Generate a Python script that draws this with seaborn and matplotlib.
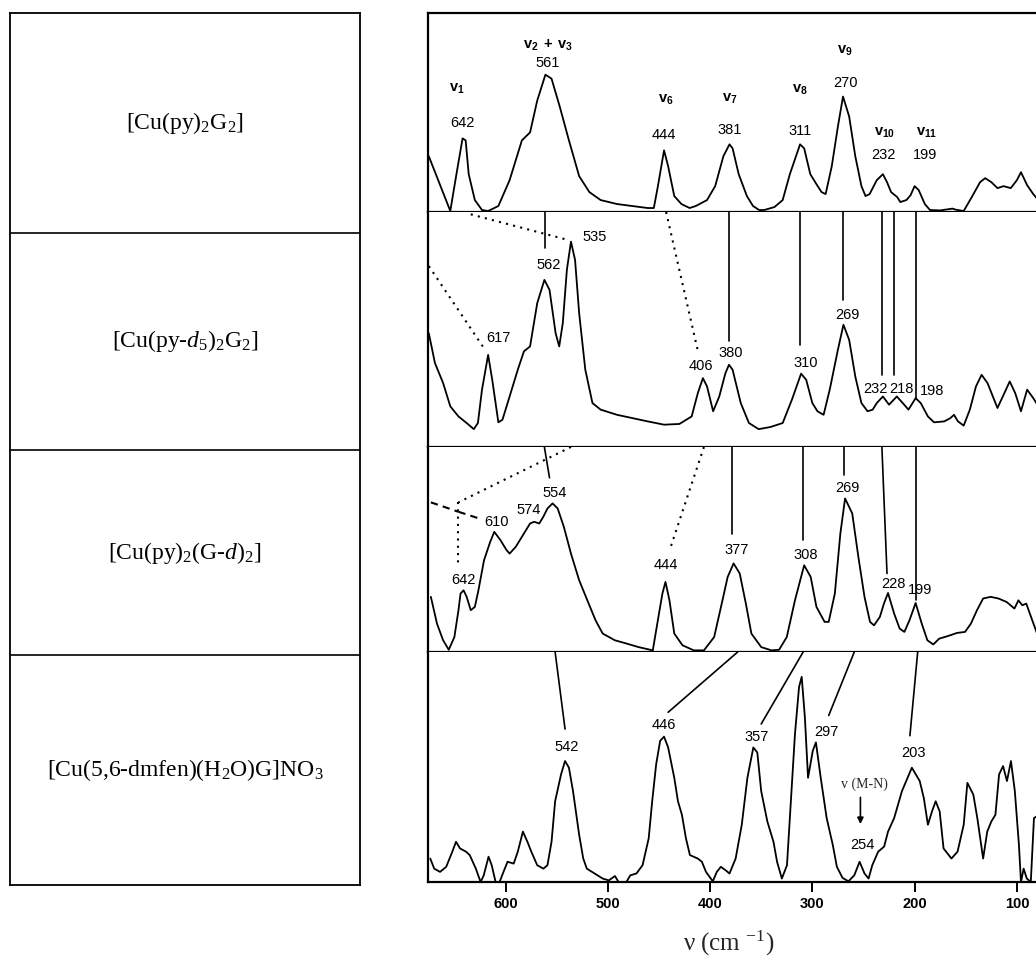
import matplotlib
matplotlib.use("Agg")
import matplotlib.pyplot as plt
import seaborn as sns
import pandas as pd

# ---------------- data ----------------
compounds = [r"[Cu(py)$_2$G$_2$]",
             r"[Cu(py-$d_5$)$_2$G$_2$]",
             r"[Cu(py)$_2$(G-$d$)$_2$]",
             r"[Cu(5,6-dmfen)(H$_2$O)G]NO$_3$"]

x_ticks = [600, 500, 400, 300, 200, 100]

# spectrum 1 : [Cu(py)2G2]
s1_wn = [675, 654, 648, 642, 639, 636, 630, 623, 617, 607, 596, 584, 576, 569, 561, 555, 547, 538,
         528, 518, 507, 491, 476, 461, 455, 451, 445, 441, 435, 428, 420, 414, 403, 395, 387, 381,
         378, 372, 364, 358, 352, 347, 337, 329, 322, 312, 308, 302, 296, 291, 287, 281, 275, 270,
         264, 258, 252, 248, 244, 237, 231, 227, 223, 217, 214, 208, 204, 200, 196, 190, 185, 175,
         163, 160, 152, 144, 136, 131, 125, 119, 113, 106, 100, 96, 90, 84, 79]
s1_int = [28, 0.5, 19, 37, 36, 19, 6, 1, 0.5, 3, 16, 36, 40, 56, 69, 67, 53, 36,
          18, 10, 6, 4, 3, 2, 2, 13, 31, 23, 8, 4, 2, 3, 6, 13, 28, 34,
          32, 19, 8, 3, 1, 1, 2.5, 6, 19, 34, 32, 19, 14, 10, 9, 23, 43, 58,
          48, 28, 13, 8, 9, 16, 19, 15, 10, 7.5, 5, 6, 8.4, 13, 11, 4, 1, 0.8,
          1.7, 1.2, 0.5, 7.6, 15, 17, 15, 12, 13, 12, 16, 20, 13.5, 9, 6]

# spectrum 2 : [Cu(py-d5)2G2]
s2_wn = [675, 669, 661, 654, 646, 638, 631, 627, 623, 617, 613, 607, 603, 596, 588, 582, 576, 569,
         562, 557, 551, 547.5, 544, 540, 536, 532, 528, 522, 515, 507, 491, 476, 461, 445, 430, 418,
         412, 407, 403, 397, 391, 385, 381.5, 378, 370, 362, 352.5, 341, 329, 320, 311, 306, 300,
         295, 289, 283, 275, 269.6, 264, 258, 252, 246, 241, 237, 231, 225, 217.4, 211.6, 206, 199,
         194, 187, 181, 171, 165, 161.5, 157.6, 152, 146, 140, 134.5, 128.7, 119, 113, 107, 101.6,
         96, 90, 84, 79]
s2_int = [48.4, 35.7, 27.2, 17.3, 13, 10.2, 7.6, 10.2, 24.4, 39.2, 28.6, 10.5, 11.6, 21.5, 32.9, 40.7,
          42.8, 61.2, 71.1, 66.9, 48.4, 42.8, 52.7, 75.4, 87.4, 79.6, 56.9, 32.9, 18.7, 15.9, 13.7,
          12.3, 10.9, 9.5, 9.8, 13, 22.9, 29.3, 25.8, 15.2, 21.5, 31.4, 35, 32.9, 18.7, 10.2, 7.6,
          8.5, 10.2, 20.1, 31.2, 28.6, 18.7, 15.2, 13.7, 24.4, 41.4, 52, 45.6, 30, 18.7, 15.2, 15.9,
          18.7, 21.5, 18, 21.5, 18.7, 15.9, 20.8, 18.7, 13, 10.5, 10.9, 12.3, 13.7, 10.9, 9.1, 15.9,
          25.8, 30.7, 27.2, 16.6, 22.2, 27.9, 22.9, 15.2, 24.4, 20.8, 17.3]

# spectrum 3 : [Cu(py)2(G-d)2]
s3_wn = [673, 667, 661, 655.5, 650, 646, 644, 641, 638, 634, 630, 626.5, 621, 615, 611, 605, 599, 596,
         590, 582, 576, 572, 567, 563, 559, 554, 549, 543, 536, 528, 520, 512, 505, 493, 481.5, 470,
         456, 450.5, 446.6, 443.6, 439.7, 435, 427, 416, 406, 396, 388.6, 382.8, 377, 371, 365,
         359.6, 350, 340, 332.5, 325, 317, 308, 301.6, 296, 288, 284, 278, 272.6, 268, 261, 255,
         249, 243.6, 239.7, 234, 230, 226, 220, 214.6, 210, 205, 199, 193, 187.5, 181.7, 176, 168,
         158.5, 150.7, 145, 139, 133, 125.6, 118, 110, 102.4, 98.5, 94.7, 90.8, 85, 79, 76.7]
s3_int = [26.9, 13.8, 5.7, 1.1, 7.3, 20.4, 28.5, 30.1, 26.9, 20.4, 22, 30.1, 44.8, 53.7, 58.6, 54.6,
          49.7, 48, 51.3, 57.8, 62.7, 63.5, 62.7, 66, 70, 72.5, 70, 61.1, 48, 35, 25.2, 15.5, 9, 5.7,
          4.1, 2.4, 0.8, 17.1, 28.5, 34.2, 25.2, 9, 3.3, 0.8, 0.8, 7.3, 23.6, 36.6, 43.2, 38.3, 23.6,
          9, 2.4, 0.8, 1.1, 7.3, 25.2, 42.3, 36.6, 22, 14.7, 14.7, 28.5, 57.8, 74.9, 67.6, 46.4,
          26.9, 14.7, 13, 17.1, 23.6, 28.8, 18.7, 11.4, 9.8, 15.5, 23.9, 13.8, 5.7, 3.7, 6.5, 7.7,
          9.3, 9.8, 13.8, 20.4, 26.1, 26.9, 26.1, 24.4, 21.2, 25.2, 22.8, 23.6, 15.5, 7.3, 4.1]

# spectrum 4 : [Cu(5,6-dmfen)(H2O)G]NO3
s4_wn = [673.6, 669.7, 664, 658, 652, 648.4, 644.5, 638.7, 635, 629, 624.4, 621.3, 616.6, 613.5,
         609.7, 605.8, 602, 598, 592, 588, 583, 578.6, 574.8, 569, 563, 559, 555, 551.5, 545.7,
         541.8, 538, 534, 528, 524, 520.5, 513, 505, 499, 493, 489.5, 485.6, 481.8, 478, 472, 466,
         460, 456.6, 452.7, 448.8, 445, 441, 435, 431.4, 427.5, 423.6, 419.7, 412, 408, 404, 397.3,
         393.4, 389.5, 384.8, 381, 375, 369, 363.5, 357.7, 353.8, 350, 344, 338, 334.5, 329.8,
         324.8, 321, 317, 313, 310.4, 307.3, 304.2, 299.6, 296.5, 291.8, 286, 280, 276, 270.5,
         264.7, 259, 253.8, 249, 245, 241.4, 235.6, 229.8, 226, 220, 212.4, 202.7, 195, 191, 187,
         183, 179.4, 175.5, 171.7, 164, 158, 152, 148.4, 142.6, 138.7, 133, 129, 125, 121, 117.4,
         113.5, 109.7, 105.8, 102, 98, 96, 93.4, 90.3, 86.4, 83.3, 80.6, 76.7, 75.6]
s4_int = [10.2, 5.8, 4.4, 6.6, 13.2, 17.5, 14.6, 13.2, 11.7, 5.8, 0, 2.9, 11, 7.3, 0, 0, 4.4, 8.8, 8,
          13.2, 21.9, 17.5, 13.2, 7.3, 5.8, 7.3, 17.5, 35.1, 46.8, 52.6, 49.7, 39.5, 20.5, 10.2, 5.8,
          3.7, 1.5, 0.7, 2.6, 0, 0, 0, 2.9, 3.7, 7.3, 19, 35.1, 51.2, 61.4, 63.2, 58.5, 45.3, 35.1,
          29.2, 19, 11.7, 10.2, 8.8, 4.4, 0.3, 4.4, 6.6, 5.1, 3.7, 10.2, 24.9, 45.3, 58.5, 56.3,
          39.5, 26.3, 17.5, 8.8, 1.5, 7.3, 35.1, 64.3, 84.8, 89.2, 71.6, 45.3, 57, 60.7, 45.3, 27.8,
          16.1, 6.6, 1.8, 0.3, 2.9, 8.8, 3.7, 1.5, 7.3, 13.2, 15.4, 21.9, 27.8, 39.5, 49.7, 43.9,
          36.5, 24.9, 30.7, 35.1, 30.7, 14.6, 10.2, 13.2, 24.9, 43.1, 38, 27.8, 10.2, 21.9, 26.3,
          29.2, 46.8, 50.4, 43.9, 52.6, 39.5, 16.1, 0, 5.8, 1.5, 0, 27.8, 28.5, 19, 16.1]

# peak labels per panel
p1_modes = [r"$\mathregular{v_1}$", r"$\mathregular{v_2\ +\ v_3}$", r"$\mathregular{v_6}$",
            r"$\mathregular{v_7}$", r"$\mathregular{v_8}$", r"$\mathregular{v_9}$",
            r"$\mathregular{v_{10}}$", r"$\mathregular{v_{11}}$"]
p1_modes_wn = [648, 559, 443, 381, 312, 268, 229, 188]
p1_modes_y = [62, 84, 56.5, 57, 61.5, 81, 39.6, 39.6]
p1_labels = ["642", "561", "444", "381", "311", "270", "232", "199"]
p1_labels_wn = [642, 559, 445, 381, 312, 268, 230, 190]
p1_labels_y = [44.7, 75, 38.8, 41.3, 40.5, 65, 28.7, 28.7]

p2_labels = ["617", "562", "535", "406", "380", "310", "269", "232", "218", "198"]
p2_labels_wn = [607, 558, 513, 408.5, 379.6, 306, 265.7, 238.7, 212.5, 183]
p2_labels_y = [46.3, 77.5, 89.5, 34.3, 39.9, 35.7, 56.2, 24.6, 24.6, 23.7]

p3_labels = ["642", "610", "574", "554", "444", "377", "308", "269", "228", "199"]
p3_labels_wn = [640.8, 609, 577.4, 551.9, 442.8, 373.9, 306.6, 265.6, 220.4, 194.5]
p3_labels_y = [35, 63.5, 69.2, 77.4, 42.3, 49.7, 47.2, 79.8, 33.4, 30.1]

p4_labels = ["542", "446", "357", "297", "203", "254"]
p4_labels_wn = [539.9, 444.9, 354.6, 286, 200.7, 251.1]
p4_labels_y = [58.5, 68.4, 63.2, 65.1, 56.3, 16.1]
mn_label = "v (M-N)"
mn_wn, mn_y = 249.2, 42.4
mn_arrow = (253, 38, 24)

# correlation lines drawn in the lower panel: (wn0, y0, wn1, y1, style)
p2_links = [(561.7, 100, 561.7, 84.6, "solid"), (634, 99, 538, 88, "dotted"),
            (675, 77, 621, 42, "dotted"), (443, 100, 412, 41, "dotted"),
            (381.5, 100, 381.5, 45, "solid"), (312, 100, 312, 43.5, "solid"),
            (269.6, 100, 269.6, 62.6, "solid"), (232, 100, 232, 30.7, "solid"),
            (220, 100, 220, 30.7, "solid"), (199, 100, 199, 20.8, "solid")]
p3_links = [(562, 100, 557, 85, "solid"), (536, 100, 646, 73, "dotted"),
            (646, 73, 646, 43, "dotted"), (673, 73, 646, 68.4, "dashed"),
            (646, 68.4, 625, 65, "dashed"), (406, 100, 439, 50.5, "dotted"),
            (379, 100, 379, 57.8, "solid"), (309.3, 100, 309.3, 54.6, "solid"),
            (268.8, 100, 268.8, 86.3, "solid"), (232, 100, 227, 38.3, "solid"),
            (199, 100, 199, 25.2, "solid")]
p4_links = [(551.5, 100, 541.8, 66.5, "solid"), (373, 100, 441, 73.8, "solid"),
            (309, 100, 350, 68.7, "solid"), (259, 100, 284, 72.4, "solid"),
            (197, 100, 204.6, 63.6, "solid")]

# ---------------- styling ----------------
sns.set_style("white")
plt.rcParams["font.family"] = ["Liberation Sans", "DejaVu Sans"]
plt.rcParams["mathtext.fontset"] = "custom"
plt.rcParams["mathtext.rm"] = "Liberation Serif"
plt.rcParams["mathtext.it"] = "Liberation Serif:italic"
plt.rcParams["mathtext.bf"] = "Liberation Serif:bold"

W, H = 1036, 960
fig = plt.figure(figsize=(W / 100, H / 100), dpi=100)

def fx(px):
    return px / W

def fy(py):
    return 1 - py / H

XL = (675.8, 77.4)
panel_px = [13, 212, 447, 652, 882]
axes = []
for i in range(4):
    top, bot = panel_px[i], panel_px[i + 1]
    ax = fig.add_axes([fx(428), fy(bot), fx(1036 + 4) - fx(428), (bot - top) / H])
    ax.set_xlim(*XL)
    ax.set_ylim(0, 100)
    ax.set_facecolor("white")
    for s in ["left", "bottom", "top", "right"]:
        ax.spines[s].set_color("black")
        ax.spines[s].set_linewidth(1.6)
    ax.spines["right"].set_visible(False)
    ax.spines["top"].set_visible(i == 0)
    ax.set_yticks([])
    ax.set_ylabel("")
    axes.append(ax)

spectra = [(s1_wn, s1_int), (s2_wn, s2_int), (s3_wn, s3_int), (s4_wn, s4_int)]
for ax, (wn, it) in zip(axes, spectra):
    df = pd.DataFrame({"wn": wn, "I": it})
    sns.lineplot(data=df, x="wn", y="I", ax=ax, color="black", lw=1.3,
                 sort=False, estimator=None)
    ax.set_xlabel("")
    ax.set_ylabel("")

for ax in axes[:3]:
    ax.set_xticks([])
ax4 = axes[3]
ax4.set_xticks(x_ticks)
ax4.set_xticklabels([str(t) for t in x_ticks], fontsize=10.5, fontweight="bold")
ax4.tick_params(axis="x", direction="out", length=7, width=1.4, pad=4, bottom=True, colors="black")

num_font = dict(fontsize=10.5, family="Liberation Sans", ha="center", va="center", color="black")

# panel 1 labels
for t, w, y in zip(p1_modes, p1_modes_wn, p1_modes_y):
    axes[0].text(w, y, t, fontweight="bold", **num_font)
for t, w, y in zip(p1_labels, p1_labels_wn, p1_labels_y):
    axes[0].text(w, y, t, **num_font)
for ax, labs, wns, ys in [(axes[1], p2_labels, p2_labels_wn, p2_labels_y),
                          (axes[2], p3_labels, p3_labels_wn, p3_labels_y),
                          (axes[3], p4_labels, p4_labels_wn, p4_labels_y)]:
    for t, w, y in zip(labs, wns, ys):
        ax.text(w, y, t, **num_font)

axes[3].text(mn_wn, mn_y, mn_label, fontsize=10, family="Liberation Serif",
             ha="center", va="center")
axes[3].annotate("", xy=(mn_arrow[0], mn_arrow[2]), xytext=(mn_arrow[0], mn_arrow[1]),
                 arrowprops=dict(arrowstyle="-|>", color="black", lw=1.2,
                                 mutation_scale=9))

styles = {"solid": "-", "dotted": (0, (1, 2.5)), "dashed": (0, (3.5, 2.5))}
for ax, links in [(axes[1], p2_links), (axes[2], p3_links), (axes[3], p4_links)]:
    for w0, y0, w1, y1, st in links:
        ax.plot([w0, w1], [y0, y1], color="black",
                lw=1.5 if st != "solid" else 1.2, ls=styles[st], clip_on=False)

fig.text(0.703, fy(943), r"ν (cm $^{\mathregular{-1}}$)", fontsize=18,
         family="Liberation Serif", ha="center", va="center")

# ---------------- left label box ----------------
box = fig.add_axes([fx(10), fy(885), fx(360) - fx(10), (885 - 13) / H])
box.set_xlim(0, 1)
box.set_ylim(885, 13)
box.set_xticks([])
box.set_yticks([])
for s in box.spines.values():
    s.set_color("black")
    s.set_linewidth(1.3)
row_edges = [13, 233, 450, 655, 885]
for yb in row_edges[1:-1]:
    box.axhline(yb, color="black", lw=1.2)
for i, lab in enumerate(compounds):
    yc = (row_edges[i] + row_edges[i + 1]) / 2
    box.text(0.5, yc, lab, fontsize=17, family="Liberation Serif",
             ha="center", va="center", color="black")

fig.savefig("out.png", dpi=100, facecolor="white")
